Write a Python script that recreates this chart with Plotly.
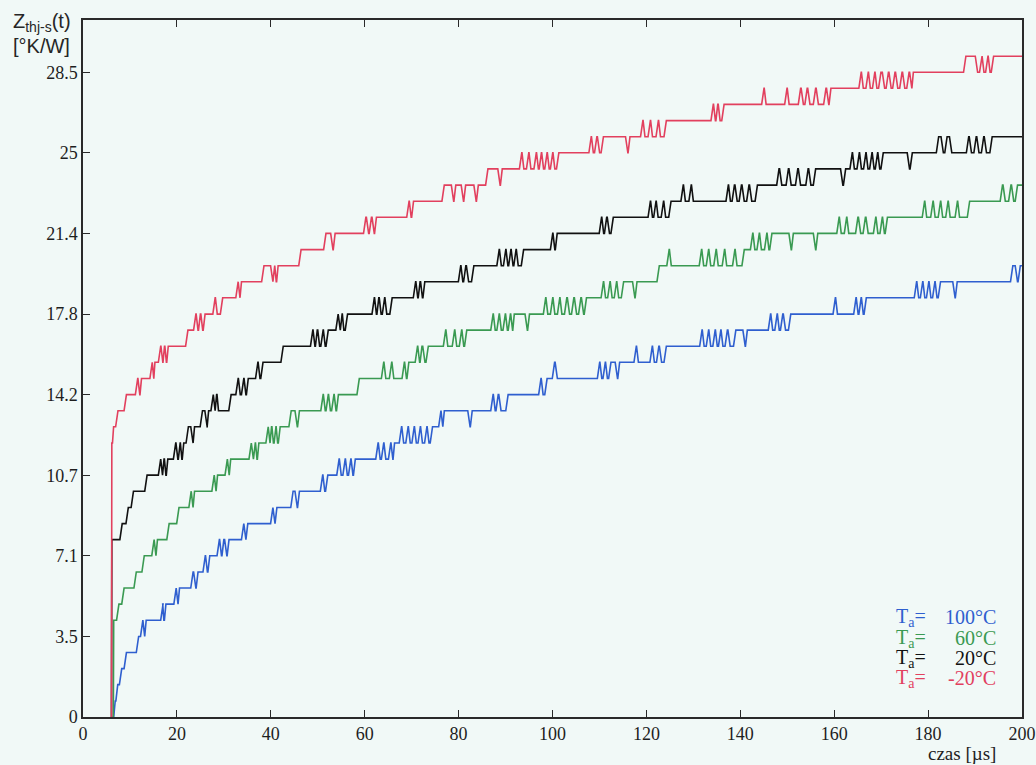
import plotly.graph_objects as go

# Thermal impedance Z_thj-s(t) step responses, (time in us, value in K/W);
# each pair means "from this time on the signal holds this value".
red_steps = [  # Ta = -20 C
    (6.0, 0.0), (6.1, 12.11), (6.4, 12.83), (7.2, 13.54), (9.0, 14.25),
    (11.4, 14.96), (11.9, 14.25), (12.3, 14.96),
    (14.5, 15.68), (14.9, 14.96), (15.2, 15.68),
    (16.3, 16.39), (16.8, 15.68), (17.2, 16.39), (17.6, 15.68), (18.0, 16.39),
    (22.1, 17.10),
    (23.8, 17.81), (24.3, 17.10), (24.8, 17.81), (25.3, 17.10), (25.8, 17.81),
    (27.9, 18.53), (28.4, 17.81), (29.5, 18.53),
    (32.8, 19.24), (33.2, 18.53), (33.6, 19.24),
    (38.3, 19.95),
    (40.2, 19.24), (40.6, 19.95), (41.0, 19.24), (41.4, 19.95),
    (46.2, 20.66),
    (51.5, 21.38), (53.0, 20.66), (53.5, 21.38),
    (60.0, 22.09), (60.6, 21.38), (61.2, 22.09), (61.8, 21.38), (62.3, 22.09),
    (69.2, 22.80), (69.7, 22.09), (70.2, 22.80),
    (76.7, 23.51),
    (78.7, 22.80), (79.2, 23.51), (80.8, 22.80), (81.3, 23.51), (83.5, 22.80), (84.0, 23.51),
    (86.0, 24.23),
    (88.6, 23.51), (89.1, 24.23),
    (93.2, 24.94), (93.7, 24.23), (94.7, 24.94), (95.2, 24.23), (96.3, 24.94), (96.8, 24.23),
    (97.4, 24.94), (97.9, 24.23), (98.6, 24.94), (99.1, 24.23), (99.8, 24.94), (100.3, 24.23),
    (101.1, 24.94),
    (108.0, 25.65), (108.5, 24.94), (109.2, 25.65), (109.8, 24.94), (110.6, 25.65),
    (115.8, 24.94), (116.3, 25.65),
    (119.0, 26.36), (119.5, 25.65), (120.6, 26.36), (121.1, 25.65), (122.3, 26.36), (122.8, 25.65),
    (124.0, 26.36),
    (134.0, 27.08), (134.5, 26.36), (135.0, 27.08), (135.5, 26.36), (136.3, 27.08),
    (144.8, 27.79), (145.3, 27.08),
    (149.7, 27.79), (150.2, 27.08),
    (152.6, 27.79), (153.2, 27.08), (154.0, 27.79), (154.6, 27.08), (155.8, 27.79), (156.4, 27.08),
    (158.0, 27.79), (158.6, 27.08), (159.1, 27.79),
    (165.5, 28.50), (166.0, 27.79), (167.0, 28.50), (167.5, 27.79), (168.4, 28.50), (168.9, 27.79),
    (169.7, 28.50), (170.5, 27.79), (171.3, 28.50), (171.9, 27.79), (172.7, 28.50), (173.3, 27.79),
    (174.2, 28.50), (174.8, 27.79), (175.7, 28.50), (176.3, 27.79), (176.7, 28.50),
    (187.8, 29.21), (190.3, 28.50), (191.2, 29.21), (191.7, 28.50), (192.5, 29.21), (193.0, 28.50),
    (193.7, 29.21),
    (200.0, 29.21),
]

black_steps = [  # Ta = 20 C
    (6.0, 0.0), (6.1, 7.84), (8.1, 8.55), (9.4, 9.26), (10.5, 9.98), (13.4, 10.69),
    (16.3, 11.40), (16.7, 10.69), (17.1, 11.40), (17.5, 10.69), (17.9, 11.40),
    (19.5, 12.11), (20.0, 11.40), (20.5, 12.11), (20.9, 11.40), (21.3, 12.11),
    (22.2, 12.83), (23.2, 12.11), (23.6, 12.83),
    (25.2, 13.54), (26.2, 12.83), (26.6, 13.54),
    (27.5, 14.25), (27.9, 13.54), (28.3, 14.25), (28.7, 13.54),
    (31.3, 14.25),
    (32.8, 14.96), (33.3, 14.25), (34.0, 14.96), (34.5, 14.25), (35.0, 14.96),
    (37.0, 15.68), (37.5, 14.96), (38.1, 15.68),
    (42.4, 16.39),
    (48.7, 17.10), (49.2, 16.39), (49.7, 17.10), (50.2, 16.39), (50.9, 17.10), (51.4, 16.39),
    (52.0, 17.10),
    (54.1, 17.81), (54.5, 17.10), (55.0, 17.81), (55.4, 17.10), (56.1, 17.81),
    (61.8, 18.53), (62.3, 17.81), (62.8, 18.53), (63.3, 17.81), (64.0, 18.53), (64.5, 17.81),
    (65.6, 18.53),
    (70.6, 19.24), (71.1, 18.53), (71.6, 19.24), (72.1, 18.53), (72.6, 19.24),
    (80.2, 19.95), (80.7, 19.24), (81.3, 19.95), (81.9, 19.24), (83.0, 19.95),
    (88.4, 20.66), (88.9, 19.95), (89.8, 20.66), (90.3, 19.95), (90.9, 20.66), (91.4, 19.95),
    (92.0, 20.66), (92.5, 19.95), (93.6, 20.66),
    (99.8, 21.38), (100.3, 20.66), (100.8, 21.38),
    (110.2, 22.09), (110.7, 21.38), (111.3, 22.09), (111.9, 21.38), (112.7, 22.09),
    (120.6, 22.80), (121.1, 22.09), (121.8, 22.80), (122.3, 22.09), (123.4, 22.80), (123.9, 22.09),
    (125.0, 22.80),
    (127.6, 23.51), (128.1, 22.80), (129.3, 23.51), (129.8, 22.80),
    (137.2, 23.51), (137.7, 22.80), (138.5, 23.51), (139.1, 22.80), (140.0, 23.51), (140.6, 22.80),
    (141.6, 23.51), (142.2, 22.80), (143.4, 23.51),
    (148.0, 24.23), (148.6, 23.51), (150.0, 24.23), (150.6, 23.51), (152.0, 24.23), (152.6, 23.51),
    (154.2, 24.23), (154.8, 23.51), (155.8, 24.23),
    (161.6, 23.51), (162.2, 24.23),
    (163.6, 24.94), (164.1, 24.23), (165.1, 24.94), (165.6, 24.23), (166.5, 24.94), (167.0, 24.23),
    (167.8, 24.94), (168.3, 24.23), (169.0, 24.94), (169.5, 24.23), (170.2, 24.94),
    (175.8, 24.23), (176.4, 24.94),
    (182.0, 25.65), (183.0, 24.94), (183.8, 25.65), (184.8, 24.94),
    (188.4, 25.65), (189.0, 24.94), (190.0, 25.65), (190.6, 24.94), (191.6, 25.65), (192.2, 24.94),
    (193.4, 25.65),
    (200.0, 25.65),
]

green_steps = [  # Ta = 60 C
    (6.4, 0.0), (6.5, 4.28), (7.4, 4.99), (8.5, 5.70), (11.1, 6.41), (12.8, 7.13),
    (14.9, 7.84), (15.3, 7.13), (15.7, 7.84),
    (18.1, 8.55), (20.2, 9.26),
    (22.8, 9.98), (23.2, 9.26), (23.6, 9.98),
    (27.7, 10.69), (28.1, 9.98), (28.5, 10.69),
    (30.5, 11.40), (30.9, 10.69), (31.3, 11.40),
    (35.6, 12.11), (36.0, 11.40), (36.5, 12.11), (36.9, 11.40), (37.3, 12.11),
    (39.2, 12.83), (39.6, 12.11), (40.0, 12.83), (40.4, 12.11), (40.9, 12.83), (41.3, 12.11),
    (41.8, 12.83),
    (44.1, 13.54), (45.4, 12.83), (45.9, 13.54),
    (50.9, 14.25), (51.4, 13.54), (52.0, 14.25), (52.5, 13.54), (53.2, 14.25), (53.7, 13.54),
    (54.2, 14.25),
    (58.6, 14.96),
    (63.8, 15.68), (64.3, 14.96), (65.5, 15.68), (66.0, 14.96), (68.2, 15.68), (68.7, 14.96),
    (69.2, 15.68),
    (71.0, 16.39), (71.5, 15.68), (72.0, 16.39), (72.6, 15.68), (73.3, 16.39),
    (77.0, 17.10), (77.5, 16.39),
    (78.9, 17.10), (79.4, 16.39), (80.4, 17.10), (80.9, 16.39), (81.5, 17.10),
    (87.1, 17.81), (87.6, 17.10), (88.4, 17.81), (88.9, 17.10), (89.7, 17.81), (90.2, 17.10),
    (90.8, 17.81), (91.3, 17.10), (91.7, 17.81),
    (94.4, 17.10), (94.9, 17.81),
    (98.3, 18.53), (98.8, 17.81), (99.8, 18.53), (100.3, 17.81), (101.3, 18.53), (101.8, 17.81),
    (102.8, 18.53), (103.4, 17.81), (104.3, 18.53), (104.9, 17.81), (105.8, 18.53), (106.4, 17.81),
    (107.0, 18.53),
    (110.6, 19.24), (111.1, 18.53), (112.0, 19.24), (112.5, 18.53), (113.4, 19.24), (113.9, 18.53),
    (114.9, 19.24),
    (117.3, 18.53), (117.8, 19.24),
    (122.5, 19.95), (124.6, 20.66), (125.1, 19.95),
    (131.5, 20.66), (132.0, 19.95), (133.0, 20.66), (133.5, 19.95), (134.6, 20.66), (135.1, 19.95),
    (136.4, 20.66), (136.9, 19.95), (138.6, 20.66), (139.1, 19.95), (140.6, 20.66),
    (142.4, 21.38), (142.9, 20.66), (143.8, 21.38), (144.3, 20.66), (145.4, 21.38), (145.9, 20.66),
    (146.5, 21.38),
    (150.6, 20.66), (151.1, 21.38), (155.8, 20.66), (156.3, 21.38),
    (160.8, 22.09), (161.3, 21.38), (162.4, 22.09), (162.9, 21.38), (164.8, 22.09), (165.4, 21.38),
    (166.4, 22.09), (167.0, 21.38), (168.6, 22.09), (169.1, 21.38), (170.0, 22.09), (170.5, 21.38),
    (171.1, 22.09),
    (179.0, 22.80), (179.5, 22.09), (180.8, 22.80), (181.3, 22.09), (182.4, 22.80), (182.9, 22.09),
    (184.0, 22.80), (184.5, 22.09), (186.0, 22.80), (186.5, 22.09), (188.6, 22.80),
    (195.6, 23.51), (196.2, 22.80), (197.4, 23.51), (198.0, 22.80), (198.8, 23.51),
    (200.0, 23.51),
]

blue_steps = [  # Ta = 100 C
    (6.3, 0.0), (6.7, 0.71), (7.2, 1.43), (8.0, 2.14), (9.0, 2.85), (11.6, 3.56),
    (12.5, 4.28), (12.9, 3.56), (13.3, 4.28),
    (16.8, 4.99), (17.1, 4.28), (17.5, 4.99),
    (19.6, 5.70), (20.0, 4.99), (20.4, 5.70),
    (23.2, 6.41), (23.8, 5.70), (24.3, 6.41),
    (25.8, 7.13), (26.3, 6.41), (26.8, 7.13),
    (28.8, 7.84), (29.3, 7.13), (29.8, 7.84), (30.4, 7.13), (30.9, 7.84),
    (34.0, 8.55), (34.4, 7.84), (34.9, 8.55),
    (40.2, 9.26), (40.6, 8.55), (41.1, 9.26),
    (44.5, 9.98), (45.4, 9.26), (45.9, 9.98),
    (50.8, 10.69), (51.3, 9.98), (51.9, 10.69),
    (54.3, 11.40), (54.8, 10.69), (55.6, 11.40), (56.1, 10.69), (56.8, 11.40), (57.3, 10.69),
    (57.8, 11.40),
    (62.6, 12.11), (63.1, 11.40), (63.8, 12.11), (64.3, 11.40), (65.3, 12.11), (65.8, 11.40),
    (66.2, 12.11),
    (67.6, 12.83), (68.1, 12.11), (69.0, 12.83), (69.5, 12.11), (70.3, 12.83), (70.8, 12.11),
    (71.6, 12.83), (72.1, 12.11), (73.0, 12.83), (73.5, 12.11), (74.2, 12.83),
    (76.0, 13.54), (76.4, 12.83), (76.8, 13.54),
    (82.2, 12.83), (82.7, 13.54),
    (87.1, 14.25), (87.6, 13.54), (88.2, 14.25), (88.8, 13.54), (90.3, 14.25),
    (97.3, 14.96), (97.8, 14.25), (98.6, 14.96),
    (100.2, 15.68), (100.8, 14.96),
    (109.8, 15.68), (110.3, 14.96), (111.0, 15.68), (111.5, 14.96), (112.2, 15.68),
    (113.6, 14.96), (114.1, 15.68),
    (117.6, 16.39), (118.1, 15.68), (121.0, 16.39), (121.5, 15.68), (122.4, 16.39), (123.0, 15.68),
    (124.0, 16.39),
    (131.6, 17.10), (132.1, 16.39), (133.0, 17.10), (133.5, 16.39), (134.4, 17.10), (134.9, 16.39),
    (135.6, 17.10), (136.1, 16.39), (137.0, 17.10), (137.6, 16.39), (138.8, 17.10),
    (140.8, 16.39), (141.3, 17.10),
    (146.2, 17.81), (146.7, 17.10),
    (147.6, 17.81), (148.1, 17.10), (148.8, 17.81), (149.4, 17.10), (150.5, 17.81),
    (160.0, 18.53), (160.5, 17.81),
    (164.4, 18.53), (164.9, 17.81), (165.5, 18.53), (166.0, 17.81), (166.6, 18.53),
    (177.3, 19.24), (177.8, 18.53), (178.6, 19.24), (179.1, 18.53), (179.9, 19.24), (180.4, 18.53),
    (181.2, 19.24), (181.7, 18.53), (182.4, 19.24),
    (185.5, 18.53), (186.0, 19.24),
    (197.8, 19.95), (198.8, 19.24), (199.4, 19.95),
    (200.0, 19.95),
]

series_names = ["Ta = 100°C", "Ta = 60°C", "Ta = 20°C", "Ta = -20°C"]
series_colors = ["#2f5fcf", "#3a9a52", "#111111", "#e2405e"]
legend_values = ["100°C", "60°C", "20°C", "-20°C"]

y_tickvals = [0, 3.5625, 7.125, 10.6875, 14.25, 17.8125, 21.375, 24.9375, 28.5]
y_ticktext = ["0", "3.5", "7.1", "10.7", "14.2", "17.8", "21.4", "25", "28.5"]
x_tickvals = [0, 20, 40, 60, 80, 100, 120, 140, 160, 180, 200]

W, H = 1036, 765
L, R, T, B = 83, 14, 20, 48
BG = "#f1f9f7"
SERIF = "Times New Roman, Liberation Serif, serif"
SANS = "Arial, Liberation Sans, sans-serif"


def ramped(steps, half=0.25):
    """Turn hold-value steps into a polyline with short sloped edges."""
    xs, ys = [], []
    prev_t = prev_z = None
    for t, z in steps:
        if prev_t is None:
            xs.append(t)
            ys.append(z)
        else:
            h = min(half, (t - prev_t) * 0.4)
            xs += [t - h, t + h]
            ys += [prev_z, z]
        prev_t, prev_z = t, z
    return xs, ys


fig = go.Figure()
for steps, name, color in zip([blue_steps, green_steps, black_steps, red_steps],
                              series_names, series_colors):
    xs, ys = ramped(steps)
    fig.add_trace(go.Scatter(x=xs, y=ys, mode="lines", name=name,
                             line=dict(color=color, width=1.6), showlegend=False))

axis_common = dict(showgrid=False, zeroline=False, showline=True, linecolor="#2a2a2a",
                   linewidth=1.5, ticks="inside", ticklen=7, tickwidth=1.2,
                   tickcolor="#2a2a2a", automargin=False,
                   tickfont=dict(family=SERIF, size=18, color="#1e1e1e"))

fig.update_xaxes(range=[0, 200], tickvals=x_tickvals, mirror="allticks", **axis_common)
fig.update_yaxes(range=[0, 30.81], tickvals=y_tickvals, ticktext=y_ticktext, mirror=True,
                 **axis_common)


def px_x(px):
    return (px - L) / (W - L - R)


def px_y(py):
    return (H - B - py) / (H - B - T)


annotations = [
    dict(text="Z<sub>thj-s</sub>(t)", x=px_x(42), y=px_y(22), xanchor="center",
         yanchor="middle", font=dict(family=SANS, size=20, color="#262626")),
    dict(text="[°K/W]", x=px_x(41), y=px_y(46), xanchor="center", yanchor="middle",
         font=dict(family=SANS, size=20, color="#262626")),
    dict(text="czas [µs]", x=px_x(962), y=px_y(754), xanchor="center", yanchor="middle",
         font=dict(family=SERIF, size=19, color="#1e1e1e")),
]

legend_rows = [617, 638, 658, 678]
for row_y, value, color in zip(legend_rows, legend_values, series_colors):
    annotations.append(dict(text="T<sub>a</sub>=", x=px_x(894), y=px_y(row_y),
                            xanchor="left", yanchor="middle",
                            font=dict(family=SERIF, size=20, color=color)))
    annotations.append(dict(text=value, x=px_x(998), y=px_y(row_y),
                            xanchor="right", yanchor="middle",
                            font=dict(family=SERIF, size=20, color=color)))

for a in annotations:
    a.update(xref="paper", yref="paper", showarrow=False)

fig.update_layout(width=W, height=H, margin=dict(l=L, r=R, t=T, b=B, pad=0),
                  paper_bgcolor=BG, plot_bgcolor=BG, annotations=annotations)

fig.write_html("out.html")
